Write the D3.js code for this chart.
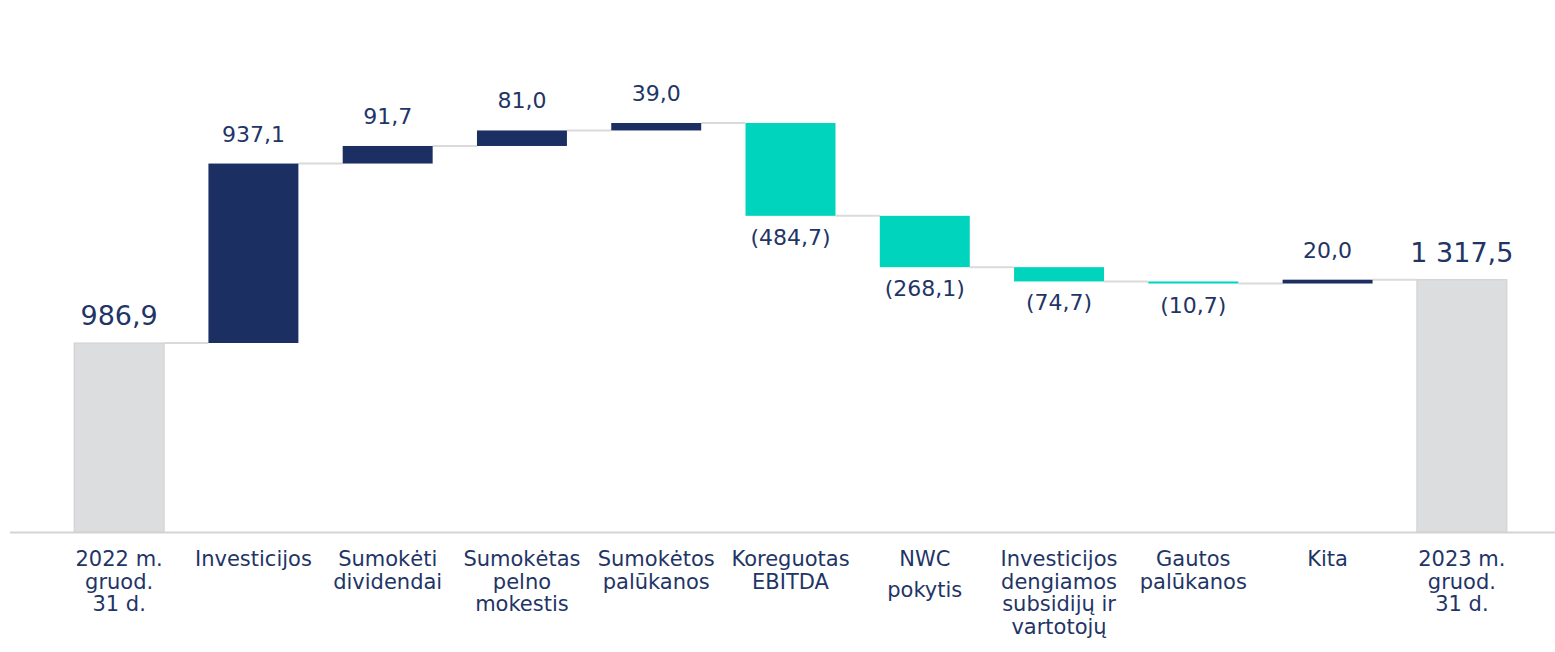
<!DOCTYPE html>
<html>
<head>
<meta charset="utf-8">
<script src="https://cdn.jsdelivr.net/npm/d3@7"></script>
<style>
  body { margin: 0; background: #fff; }
  svg text { font-family: "DejaVu Sans", sans-serif; fill: #1f3566; }
</style>
</head>
<body>
<div id="chart"></div>
<script>
const categories = [
  '2022 m.\ngruod.\n31 d.',
  'Investicijos',
  'Sumokėti\ndividendai',
  'Sumokėtas\npelno\nmokestis',
  'Sumokėtos\npalūkanos',
  'Koreguotas\nEBITDA',
  'NWC\npokytis',
  'Investicijos\ndengiamos\nsubsidijų ir\nvartotojų',
  'Gautos\npalūkanos',
  'Kita',
  '2023 m.\ngruod.\n31 d.'
];
// change values; first and last are totals
const values = [986.9, 937.1, 91.7, 81.0, 39.0, -484.7, -268.1, -74.7, -10.7, 20.0, 1317.5];
const kinds = ['total', 'up', 'up', 'up', 'up', 'down', 'down', 'down', 'down', 'up', 'total'];
const valueLabels = ['986,9', '937,1', '91,7', '81,0', '39,0', '(484,7)', '(268,1)', '(74,7)', '(10,7)', '20,0', '1 317,5'];

const W = 1555, H = 652;
const baseY = 532;

const colors = { total: '#dcdddf', up: '#1b2f63', down: '#00d4bc' };

// running totals
let run = 0;
const data = categories.map((c, i) => {
  let start, end;
  if (kinds[i] === 'total') { start = 0; end = values[i]; run = values[i]; }
  else { start = run; end = run + values[i]; run = end; }
  return { cat: c, start, end, kind: kinds[i], label: valueLabels[i] };
});

const svg = d3.select('#chart').append('svg')
  .attr('width', W).attr('height', H);

const x = d3.scaleBand()
  .domain(categories)
  .range([52, 1529])
  .paddingInner(0.33)
  .paddingOuter(0.165);

const y = d3.scaleLinear()
  .domain([0, 986.9])
  .range([baseY, 343]);

// baseline
svg.append('line')
  .attr('x1', 10).attr('x2', W)
  .attr('y1', baseY + 0.5).attr('y2', baseY + 0.5)
  .attr('stroke', '#d4d4d4').attr('stroke-width', 2);

// connectors
svg.append('g').selectAll('line')
  .data(data.slice(0, -1))
  .join('line')
    .attr('x1', (d) => x(d.cat) + x.bandwidth())
    .attr('x2', (d, i) => x(categories[i + 1]))
    .attr('y1', d => y(d.end))
    .attr('y2', d => y(d.end))
    .attr('stroke', '#dadada')
    .attr('stroke-width', 2);

// bars
svg.append('g').selectAll('rect')
  .data(data)
  .join('rect')
    .attr('x', d => x(d.cat))
    .attr('width', x.bandwidth())
    .attr('y', d => y(Math.max(d.start, d.end)))
    .attr('height', d => Math.max(1.5, Math.abs(y(d.start) - y(d.end))))
    .attr('fill', d => colors[d.kind])
    .attr('stroke', d => d.kind === 'total' ? '#cfcfcf' : 'none')
    .attr('stroke-width', 1);

// value labels
svg.append('g').selectAll('text')
  .data(data)
  .join('text')
    .attr('x', d => x(d.cat) + x.bandwidth() / 2)
    .attr('y', d => d.kind === 'down' ? y(d.end) + 29 : y(Math.max(d.start, d.end)) - (d.kind === 'total' ? 18 : 22))
    .attr('text-anchor', 'middle')
    .attr('font-size', d => d.kind === 'total' ? 27 : 22)
    .text(d => d.label);

// category axis, one text per line
const xAxis = d3.axisBottom(x).tickSize(0).tickPadding(0);
const gx = svg.append('g')
  .attr('transform', `translate(0, ${baseY})`)
  .call(xAxis);
gx.select('.domain').remove();
gx.selectAll('.tick text').remove();
gx.selectAll('.tick').each(function(d) {
  const tick = d3.select(this);
  // "NWC pokytis" sits with a wider line gap in the original
  const gap = d.startsWith('NWC') ? 8 : 0;
  d.split('\n').forEach((line, i) => {
    tick.append('text')
      .attr('x', 0)
      .attr('y', 34 + i * 22.5 + (i > 0 ? gap : 0))
      .attr('text-anchor', 'middle')
      .attr('font-size', 21)
      .style('font-family', '"DejaVu Sans", sans-serif')
      .attr('fill', '#1f3566')
      .text(line);
  });
});
</script>
</body>
</html>
